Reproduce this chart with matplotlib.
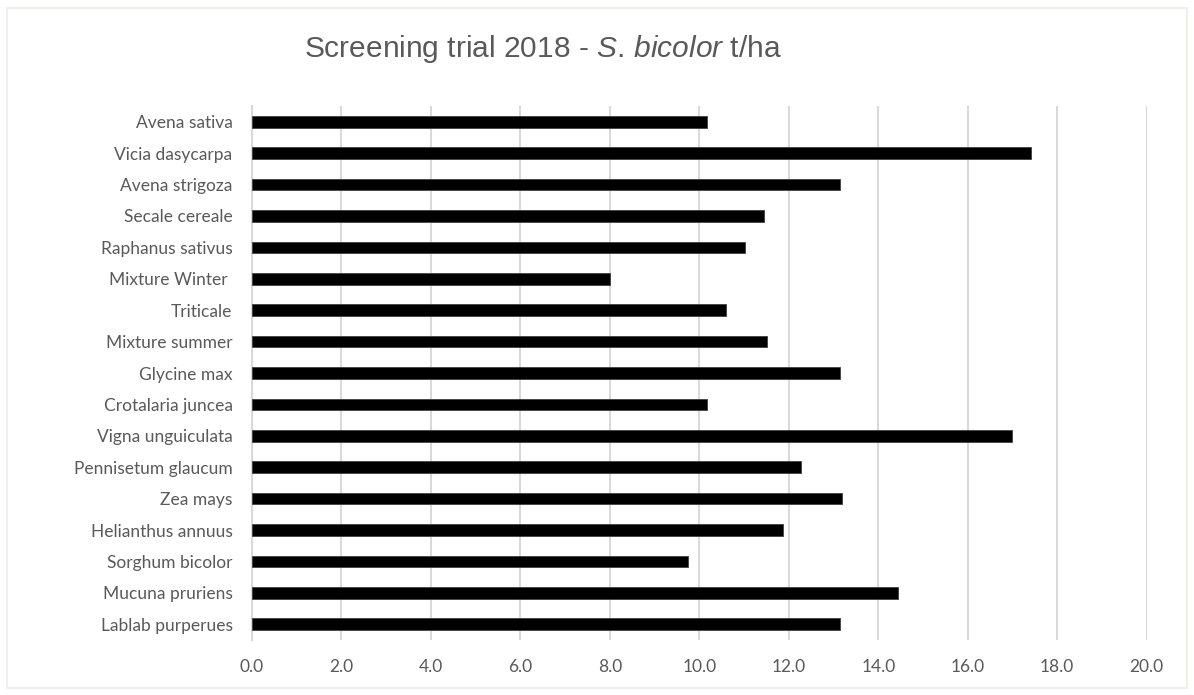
import matplotlib
matplotlib.use("Agg")
import matplotlib.pyplot as plt

# === Data (top to bottom as shown) ===
species = [
    "Avena sativa", "Vicia dasycarpa", "Avena strigoza", "Secale cereale",
    "Raphanus sativus", "Mixture Winter ", "Triticale", "Mixture summer",
    "Glycine max", "Crotalaria juncea", "Vigna unguiculata", "Pennisetum glaucum",
    "Zea mays", "Helianthus annuus", "Sorghum bicolor", "Mucuna pruriens",
    "Lablab purperues",
]
yield_t_ha = [
    10.17, 17.41, 13.15, 11.45,
    11.03, 8.0, 10.6, 11.51,
    13.15, 10.17, 16.98, 12.28,
    13.18, 11.88, 9.75, 14.44,
    13.15,
]
x_ticks = [0, 2, 4, 6, 8, 10, 12, 14, 16, 18, 20]

TEXT_GREY = "#595959"
GRID_GREY = "#d9d9d9"

plt.rcParams["mathtext.fontset"] = "custom"
plt.rcParams["mathtext.it"] = "Liberation Sans:italic"
plt.rcParams["mathtext.rm"] = "Liberation Sans"

fig = plt.figure(figsize=(11.94, 6.95), dpi=100)
ax = fig.add_axes([252 / 1194, 1 - 640 / 695, (1146.7 - 252) / 1194, (640 - 106) / 695])

pos = list(range(len(species)))[::-1]
ax.barh(pos, yield_t_ha, height=0.37, color="black", edgecolor="#404040", linewidth=0.6, zorder=3)

ax.set_xlim(0, 20)
ax.set_ylim(-0.5, len(species) - 0.5)
ax.set_xticks(x_ticks)
ax.set_xticklabels([f"{v:.1f}" for v in x_ticks])
ax.set_yticks(pos)
ax.set_yticklabels(species)
ax.tick_params(axis="both", length=0, colors=TEXT_GREY, labelsize=12.5)
ax.tick_params(axis="x", pad=14)
ax.tick_params(axis="y", pad=14)
for lab in ax.get_xticklabels() + ax.get_yticklabels():
    lab.set_fontfamily("Lato")

ax.grid(axis="x", color=GRID_GREY, linewidth=1.5, zorder=0)
for side in ("top", "right", "bottom"):
    ax.spines[side].set_visible(False)
ax.spines["left"].set_color(GRID_GREY)
ax.spines["left"].set_linewidth(1.5)

fig.text(543 / 1194, 1 - 49 / 695, r"Screening trial 2018 - $\mathit{S.\,bicolor}$ t/ha",
         ha="center", va="center", fontsize=21.5, color=TEXT_GREY, family="Liberation Sans")

# light frame round the chart area
fig.patches.append(plt.Rectangle((7 / 1194, 7 / 695), 1180 / 1194, 680 / 695,
                                 transform=fig.transFigure, fill=False,
                                 edgecolor="#eeeee6", linewidth=1.2))

fig.savefig("out.png", dpi=100)
